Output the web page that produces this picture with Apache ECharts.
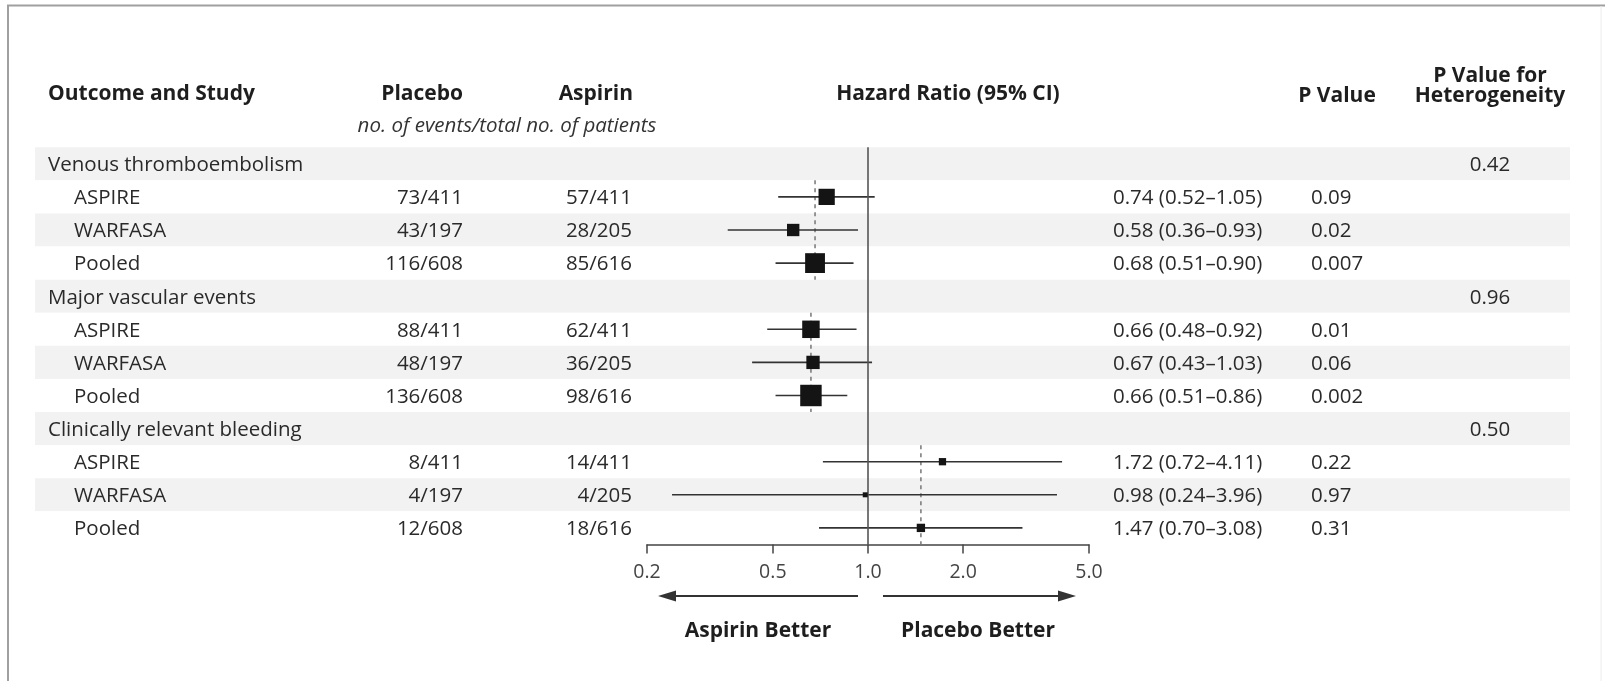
<!DOCTYPE html>
<html>
<head>
<meta charset="utf-8">
<script src="https://cdn.jsdelivr.net/npm/echarts@6/dist/echarts.min.js"></script>
<style>
html,body{margin:0;padding:0;background:#fff;}
#chart{width:1605px;height:681px;}
</style>
</head>
<body>
<div id="chart"></div>
<script>
// ---------------- data ----------------
const outcomes = ['Venous thromboembolism', 'Major vascular events', 'Clinically relevant bleeding'];
const studies = ['ASPIRE', 'WARFASA', 'Pooled'];
const placeboEvents = ['73/411', '43/197', '116/608', '88/411', '48/197', '136/608', '8/411', '4/197', '12/608'];
const aspirinEvents = ['57/411', '28/205', '85/616', '62/411', '36/205', '98/616', '14/411', '4/205', '18/616'];
const hazardRatio = [0.74, 0.58, 0.68, 0.66, 0.67, 0.66, 1.72, 0.98, 1.47];
const ciLow = [0.52, 0.36, 0.51, 0.48, 0.43, 0.51, 0.72, 0.24, 0.70];
const ciHigh = [1.05, 0.93, 0.90, 0.92, 1.03, 0.86, 4.11, 3.96, 3.08];
const pValue = ['0.09', '0.02', '0.007', '0.01', '0.06', '0.002', '0.22', '0.97', '0.31'];
const pHeterogeneity = ['0.42', '0.96', '0.50'];
const xTicks = [0.2, 0.5, 1.0, 2.0, 5.0];

// ---------------- derived rows ----------------
const rows = [];          // category rows (top to bottom)
const studyRow = [];      // row index of each study entry
outcomes.forEach((o, g) => {
  rows.push(o);
  studies.forEach((s, k) => { studyRow.push(rows.length); rows.push(s); });
});
const groupRow = outcomes.map((o, g) => g * (studies.length + 1));
const fmt2 = v => v.toFixed(2);
const hrText = hazardRatio.map((h, i) => fmt2(h) + ' (' + fmt2(ciLow[i]) + '\u2013' + fmt2(ciHigh[i]) + ')');

// ---------------- layout / style ----------------
const FONT = '"Open Sans", "Noto Sans", sans-serif';
const TXT = '#2a2a2a';
const FS = 20.5;
const HFS = 21;
const rowTop = 147.25, rowH = 33.1;
const gridH = rowH * rows.length;

function textColumn(colX, align, items) {
  return {
    type: 'custom', xAxisIndex: 0, yAxisIndex: 0, silent: true, z: 5,
    data: items,
    renderItem: function (params, api) {
      const r = api.value(0);
      const pt = api.coord([colX, r]);
      return {
        type: 'text',
        style: {
          x: pt[0], y: pt[1] + 1.5, text: items[params.dataIndex][1],
          align: align, verticalAlign: 'middle',
          fill: TXT, fontFamily: FONT, fontSize: FS, fontWeight: 'normal'
        }
      };
    }
  };
}

const labelItems = rows.map((r, i) => [i, r]);
const groupLabels = labelItems.filter((d, i) => groupRow.indexOf(i) >= 0);
const studyLabels = labelItems.filter((d, i) => groupRow.indexOf(i) < 0);

const chart = echarts.init(document.getElementById('chart'), null, {renderer: 'canvas'});

function headText(x, y, text, align, extra) {
  return {
    type: 'text', x: x, y: y, silent: true,
    style: Object.assign({
      text: text, align: align, verticalAlign: 'middle', fill: '#1e1e1e',
      fontFamily: FONT, fontSize: HFS, fontWeight: 'bold'
    }, extra || {})
  };
}

const option = {
  backgroundColor: '#ffffff',
  animation: false,
  grid: [
    {left: 35, top: rowTop, width: 1535, height: gridH},
    {left: 647, top: rowTop, width: 442, height: gridH}
  ],
  xAxis: [
    {gridIndex: 0, type: 'value', min: 35, max: 1570, show: false},
    {
      gridIndex: 1, type: 'log', logBase: 10, min: 0.2, max: 5,
      axisLine: {show: true, lineStyle: {color: '#444', width: 1.5}},
      axisTick: {show: true, inside: false, length: 9, customValues: xTicks, lineStyle: {color: '#444', width: 1.5}},
      axisLabel: {
        show: true, customValues: xTicks, margin: 18, color: '#444',
        fontFamily: FONT, fontSize: 19.5, formatter: v => Number(v).toFixed(1)
      },
      splitLine: {show: false}, minorTick: {show: false}
    }
  ],
  yAxis: [
    {
      gridIndex: 0, type: 'category', data: rows, inverse: true,
      axisLine: {show: false}, axisTick: {show: false}, axisLabel: {show: false},
      splitLine: {show: false},
      splitArea: {show: true, areaStyle: {color: ['#f2f2f2', '#ffffff']}}
    },
    {
      gridIndex: 1, type: 'category', data: rows, inverse: true, show: false
    }
  ],
  series: [
    textColumn(48, 'left', groupLabels),
    textColumn(74, 'left', studyLabels),
    textColumn(463, 'right', studyRow.map((r, i) => [r, placeboEvents[i]])),
    textColumn(632, 'right', studyRow.map((r, i) => [r, aspirinEvents[i]])),
    textColumn(1113, 'left', studyRow.map((r, i) => [r, hrText[i]])),
    textColumn(1311, 'left', studyRow.map((r, i) => [r, pValue[i]])),
    textColumn(1490, 'center', groupRow.map((r, g) => [r, pHeterogeneity[g]])),
    // pooled dashed reference lines per outcome
    {
      type: 'custom', xAxisIndex: 1, yAxisIndex: 1, silent: true, z: 3,
      data: outcomes.map((o, g) => [hazardRatio[g * 3 + 2], groupRow[g] + 1, groupRow[g] + studies.length]),
      renderItem: function (params, api) {
        const h = api.size([0, 1])[1];
        const a = api.coord([api.value(0), api.value(1)]);
        const b = api.coord([api.value(0), api.value(2)]);
        return {
          type: 'line',
          shape: {x1: a[0], y1: a[1] - h / 2, x2: b[0], y2: b[1] + h / 2},
          style: {stroke: '#777', lineWidth: 1.5, lineDash: [4, 4]}
        };
      }
    },
    // confidence intervals
    {
      type: 'custom', xAxisIndex: 1, yAxisIndex: 1, silent: true, z: 4,
      data: studyRow.map((r, i) => [ciLow[i], ciHigh[i], r]),
      renderItem: function (params, api) {
        const a = api.coord([api.value(0), api.value(2)]);
        const b = api.coord([api.value(1), api.value(2)]);
        return {
          type: 'line',
          shape: {x1: a[0], y1: a[1], x2: b[0], y2: b[1]},
          style: {stroke: '#333', lineWidth: 1.6}
        };
      }
    },
    // point estimates
    {
      type: 'scatter', xAxisIndex: 1, yAxisIndex: 1, silent: true, z: 6,
      symbol: 'rect',
      symbolSize: function (val, params) {
        const i = params.dataIndex;
        const se = (Math.log(ciHigh[i]) - Math.log(ciLow[i])) / 3.92;
        const s = 2.7 / se + 1.2;
        return [s, s];
      },
      itemStyle: {color: '#141414', opacity: 1},
      data: studyRow.map((r, i) => [hazardRatio[i], r]),
      markLine: {
        silent: true, symbol: 'none', label: {show: false},
        lineStyle: {color: '#555', width: 1.6, type: 'solid'},
        data: [{xAxis: 1}]
      }
    }
  ],
  graphic: [
    // frame
    {type: 'line', silent: true, shape: {x1: 7, y1: 5.5, x2: 1605, y2: 5.5}, style: {stroke: '#a0a0a0', lineWidth: 2}},
    {type: 'line', silent: true, shape: {x1: 8, y1: 5, x2: 8, y2: 681}, style: {stroke: '#a0a0a0', lineWidth: 2}},
    {type: 'line', silent: true, shape: {x1: 1601, y1: 6, x2: 1601, y2: 681}, style: {stroke: '#ececec', lineWidth: 1}},
    // headers
    headText(48, 94, 'Outcome and Study', 'left'),
    headText(463, 94, 'Placebo', 'right'),
    headText(633, 94, 'Aspirin', 'right'),
    headText(507, 126, 'no. of events/total no. of patients', 'center', {fontWeight: 'normal', fontStyle: 'italic', fontSize: FS, fill: '#333'}),
    headText(948, 94, 'Hazard Ratio (95% CI)', 'center'),
    headText(1337, 96, 'P Value', 'center'),
    headText(1490, 76, 'P Value for', 'center'),
    headText(1490, 96, 'Heterogeneity', 'center'),
    // direction arrows
    {type: 'line', silent: true, shape: {x1: 858, y1: 596, x2: 672, y2: 596}, style: {stroke: '#333', lineWidth: 2}},
    {type: 'polygon', silent: true, shape: {points: [[658, 596], [676, 590.5], [676, 601.5]]}, style: {fill: '#333'}},
    {type: 'line', silent: true, shape: {x1: 883, y1: 596, x2: 1062, y2: 596}, style: {stroke: '#333', lineWidth: 2}},
    {type: 'polygon', silent: true, shape: {points: [[1076, 596], [1058, 590.5], [1058, 601.5]]}, style: {fill: '#333'}},
    headText(758, 631, 'Aspirin Better', 'center'),
    headText(978, 631, 'Placebo Better', 'center')
  ]
};
chart.setOption(option);
</script>
</body>
</html>
